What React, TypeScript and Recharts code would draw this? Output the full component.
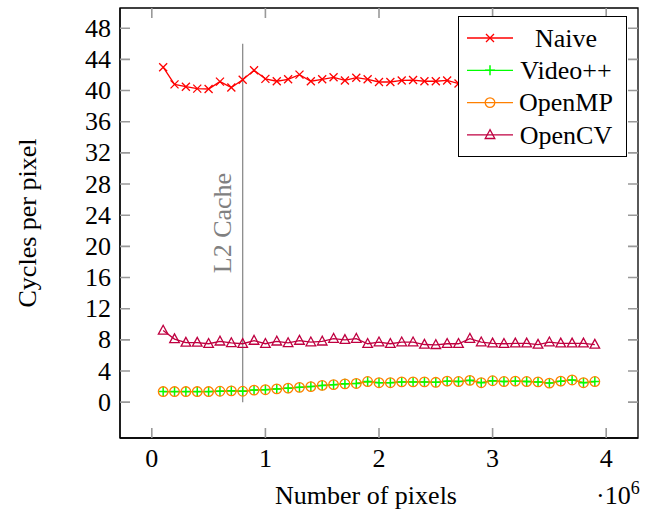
import React from "react";
import {
  ComposedChart,
  Line,
  XAxis,
  YAxis,
  Legend,
  ReferenceLine,
  ReferenceArea,
} from "recharts";

// x positions, in millions of pixels
const PIXELS = [
  0.1, 0.2, 0.3, 0.4, 0.5, 0.6, 0.7, 0.8, 0.9, 1.0, 1.1, 1.2, 1.3,
  1.4, 1.5, 1.6, 1.7, 1.8, 1.9, 2.0, 2.1, 2.2, 2.3, 2.4, 2.5, 2.6,
  2.7, 2.8, 2.9, 3.0, 3.1, 3.2, 3.3, 3.4, 3.5, 3.6, 3.7, 3.8, 3.9,
];

const NAIVE = [
  43.0, 40.8, 40.5, 40.25, 40.2, 41.15, 40.4, 41.4, 42.6, 41.5, 41.2, 41.45, 42.05,
  41.2, 41.45, 41.7, 41.3, 41.65, 41.45, 41.1, 41.1, 41.3, 41.35, 41.2, 41.2, 41.3,
  40.9, 41.1, 41.2, 41.0, 41.1, 41.2, 41.0, 41.1, 41.0, 41.2, 41.1, 41.0, 41.1,
];

const VIDEOPP = [
  1.36, 1.36, 1.36, 1.36, 1.36, 1.4, 1.45, 1.4, 1.55, 1.6, 1.7, 1.8, 1.9,
  2.0, 2.15, 2.25, 2.35, 2.4, 2.65, 2.5, 2.5, 2.6, 2.6, 2.6, 2.55, 2.7,
  2.65, 2.8, 2.5, 2.75, 2.65, 2.7, 2.65, 2.6, 2.45, 2.7, 2.85, 2.5, 2.65,
];

const OPENMP = [
  1.36, 1.36, 1.36, 1.36, 1.36, 1.4, 1.45, 1.4, 1.55, 1.6, 1.7, 1.8, 1.9,
  2.0, 2.15, 2.25, 2.35, 2.4, 2.65, 2.5, 2.5, 2.6, 2.6, 2.6, 2.55, 2.7,
  2.65, 2.8, 2.5, 2.75, 2.65, 2.7, 2.65, 2.6, 2.45, 2.7, 2.85, 2.5, 2.65,
];

const OPENCV = [
  9.2, 8.1, 7.65, 7.65, 7.5, 7.8, 7.6, 7.5, 7.9, 7.5, 7.8, 7.6, 7.9,
  7.7, 7.8, 8.15, 8.0, 8.15, 7.5, 7.7, 7.5, 7.7, 7.7, 7.4, 7.35, 7.5,
  7.5, 8.15, 7.7, 7.55, 7.5, 7.55, 7.55, 7.4, 7.7, 7.55, 7.55, 7.55, 7.4,
];

const X_TICKS = [0, 1, 2, 3, 4];
const Y_TICKS = [0, 4, 8, 12, 16, 20, 24, 28, 32, 36, 40, 44, 48];
const X_DOMAIN = [-0.28, 4.28];
const Y_DOMAIN = [-4.6, 50.6];
const L2_CACHE = 0.8;
const L2_TOP = 46;

const data = PIXELS.map((x, i) => ({
  x,
  naive: NAIVE[i],
  videopp: VIDEOPP[i],
  openmp: OPENMP[i],
  opencv: OPENCV[i],
}));

// layout
const W = 657;
const H = 510;
const MARGIN = { top: 8, right: 19, bottom: 0, left: 0 };
const X_AXIS_H = 72;
const Y_AXIS_W = 120;
const PLOT_TOP = MARGIN.top;
const PLOT_BOTTOM = H - MARGIN.bottom - X_AXIS_H;
const PLOT_LEFT = MARGIN.left + Y_AXIS_W;
const PLOT_RIGHT = W - MARGIN.right;

const FONT = "'Liberation Serif', 'Times New Roman', serif";
const FS = 26;
const TICK = 10;
const TICK_COLOR = "#999";

const RED = "#ff0000";
const GREEN = "#00ff00";
const ORANGE = "#ff8000";
const PURPLE = "#bf0040";

// ---- markers ----
const Cross = ({ cx, cy, color }: any) => (
  <path d={`M${cx - 4},${cy - 4}L${cx + 4},${cy + 4}M${cx - 4},${cy + 4}L${cx + 4},${cy - 4}`} stroke={color} strokeWidth={1.3} fill="none" />
);
const Plus = ({ cx, cy, color }: any) => (
  <path d={`M${cx - 5},${cy}L${cx + 5},${cy}M${cx},${cy - 5}L${cx},${cy + 5}`} stroke={color} strokeWidth={1.5} fill="none" />
);
const Circle = ({ cx, cy, color }: any) => (
  <circle cx={cx} cy={cy} r={4.8} stroke={color} strokeWidth={1.3} fill="none" />
);
const Triangle = ({ cx, cy, color }: any) => (
  <path d={`M${cx},${cy - 5.2}L${cx - 4.8},${cy + 3.6}L${cx + 4.8},${cy + 3.6}Z`} stroke={color} strokeWidth={1.3} fill="none" />
);

const dotOf = (Shape: any, color: string) => (p: any) =>
  p.cx == null ? <g key={p.index} /> : <Shape key={p.index} cx={p.cx} cy={p.cy} color={color} />;

// ---- axis ticks (pgfplots style: grey, pointing inward, on all four sides) ----
const XTick = ({ x, y, payload }: any) => (
  <g>
    <path
      d={`M${x},${PLOT_BOTTOM}V${PLOT_BOTTOM - TICK}M${x},${PLOT_TOP}V${PLOT_TOP + TICK}`}
      stroke={TICK_COLOR}
      strokeWidth={1.6}
      fill="none"
    />
    <text x={x} y={y} dy="0.66em" textAnchor="middle" fontFamily={FONT} fontSize={FS} fill="#000">
      {payload.value}
    </text>
  </g>
);
const YTick = ({ x, y, payload }: any) => (
  <g>
    <path
      d={`M${PLOT_LEFT},${y}H${PLOT_LEFT + TICK}M${PLOT_RIGHT},${y}H${PLOT_RIGHT - TICK}`}
      stroke={TICK_COLOR}
      strokeWidth={1.6}
      fill="none"
    />
    <text x={x} y={y} dy="0.33em" textAnchor="end" fontFamily={FONT} fontSize={FS} fill="#000">
      {payload.value}
    </text>
  </g>
);

const XLabel = ({ viewBox }: any) => {
  const { x, y, width, height } = viewBox;
  return (
    <g fontFamily={FONT} fontSize={FS} fill="#000">
      <text x={x + width / 2 - 13} y={y + height - 6} textAnchor="middle">Number of pixels</text>
      <text x={x + width - 42} y={y + height - 6}>
        ·10<tspan dy={-10} fontSize={18}>6</tspan>
      </text>
    </g>
  );
};

const YLabel = ({ viewBox }: any) => {
  const { y, height } = viewBox;
  const cx = 27;
  const cy = y + height / 2;
  return (
    <text x={cx} y={cy} dy="0.34em" textAnchor="middle" transform={`rotate(-90 ${cx} ${cy})`}
      fontFamily={FONT} fontSize={FS} fill="#000">
      Cycles per pixel
    </text>
  );
};

const CacheLabel = ({ viewBox }: any) => {
  const cx = viewBox.x - 21;
  const cy = viewBox.y + viewBox.height / 2;
  return (
    <text x={cx} y={cy} dy="0.34em" textAnchor="middle" transform={`rotate(-90 ${cx} ${cy})`}
      fontFamily={FONT} fontSize={FS} fill="#808080">
      L2 Cache
    </text>
  );
};

const LEGEND_ITEMS = [
  { name: "Naive", color: RED, Shape: Cross },
  { name: "Video++", color: GREEN, Shape: Plus },
  { name: "OpenMP", color: ORANGE, Shape: Circle },
  { name: "OpenCV", color: PURPLE, Shape: Triangle },
];

function LegendBox() {
  return (
    <svg width={167} height={139} style={{ display: "block" }}>
      {LEGEND_ITEMS.map((it, i) => {
        const cy = 21 + i * 32.3;
        return (
          <g key={it.name}>
            <line x1={8} y1={cy} x2={54} y2={cy} stroke={it.color} strokeWidth={1.3} />
            <it.Shape cx={31} cy={cy} color={it.color} />
            <text x={107} y={cy} dy="0.34em" textAnchor="middle" fontFamily={FONT} fontSize={FS} fill="#000">
              {it.name}
            </text>
          </g>
        );
      })}
    </svg>
  );
}

export default function App() {
  return (
    <div style={{ position: "absolute", left: 0, top: 0, width: W, height: H, background: "#fff" }}>
      <ComposedChart width={W} height={H} data={data} margin={MARGIN}>
        <XAxis
          xAxisId="b"
          dataKey="x"
          type="number"
          domain={X_DOMAIN}
          allowDataOverflow
          ticks={X_TICKS}
          interval={0}
          height={X_AXIS_H}
          tickSize={0}
          tickMargin={12}
          tickLine={false}
          axisLine={{ stroke: "#000", strokeWidth: 1.3 }}
          tick={<XTick />}
          label={{ content: <XLabel /> }}
        />
        <YAxis
          yAxisId="l"
          type="number"
          domain={Y_DOMAIN}
          allowDataOverflow
          ticks={Y_TICKS}
          interval={0}
          width={Y_AXIS_W}
          tickSize={0}
          tickMargin={9}
          tickLine={false}
          axisLine={{ stroke: "#000", strokeWidth: 1.3 }}
          tick={<YTick />}
          label={{ content: <YLabel /> }}
        />
        {/* axis frame */}
        <ReferenceArea
          xAxisId="b"
          yAxisId="l"
          x1={X_DOMAIN[0]}
          x2={X_DOMAIN[1]}
          y1={Y_DOMAIN[0]}
          y2={Y_DOMAIN[1]}
          fill="none"
          stroke="#000"
          strokeWidth={1.3}
          ifOverflow="visible"
        />
        <ReferenceLine
          xAxisId="b"
          yAxisId="l"
          segment={[{ x: L2_CACHE, y: 0 }, { x: L2_CACHE, y: L2_TOP }]}
          stroke="#8c8c8c"
          strokeWidth={1.3}
          label={{ content: <CacheLabel /> }}
        />
        <Line xAxisId="b" yAxisId="l" dataKey="naive" name="Naive" stroke={RED} strokeWidth={1.3}
          dot={dotOf(Cross, RED)} activeDot={false} isAnimationActive={false} />
        <Line xAxisId="b" yAxisId="l" dataKey="videopp" name="Video++" stroke={GREEN} strokeWidth={1.3}
          dot={dotOf(Plus, GREEN)} activeDot={false} isAnimationActive={false} />
        <Line xAxisId="b" yAxisId="l" dataKey="openmp" name="OpenMP" stroke={ORANGE} strokeWidth={1.3}
          dot={dotOf(Circle, ORANGE)} activeDot={false} isAnimationActive={false} />
        <Line xAxisId="b" yAxisId="l" dataKey="opencv" name="OpenCV" stroke={PURPLE} strokeWidth={1.3}
          dot={dotOf(Triangle, PURPLE)} activeDot={false} isAnimationActive={false} />
        <Legend
          layout="vertical"
          align="center"
          verticalAlign="middle"
          wrapperStyle={{
            left: 458,
            top: 16,
            width: 169,
            height: 141,
            background: "#fff",
            border: "1.3px solid #000",
            boxSizing: "border-box",
          }}
          content={<LegendBox />}
        />
      </ComposedChart>
    </div>
  );
}
